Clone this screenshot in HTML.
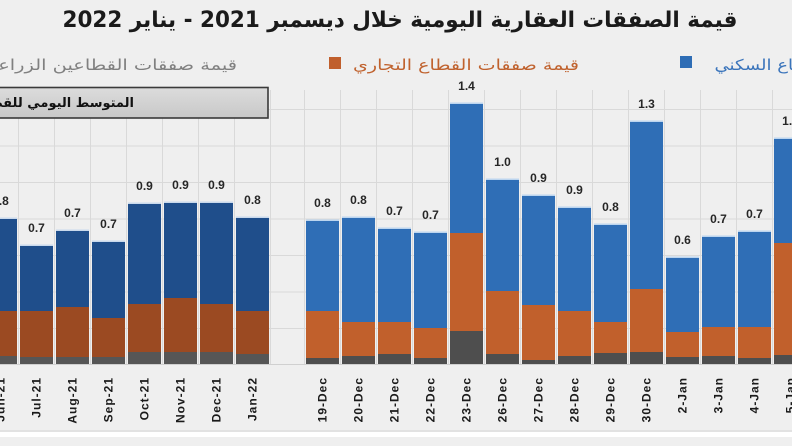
<!DOCTYPE html>
<html><head><meta charset="utf-8"><style>
html,body{margin:0;padding:0;background:#efefef;}
svg{display:block;}
</style></head><body>
<svg width="792" height="446" viewBox="0 0 792 446" xmlns="http://www.w3.org/2000/svg">
<rect x="0" y="0" width="792" height="446" fill="#efefef"/>
<!-- horizontal gridlines -->
<g stroke="#d9d9d9" stroke-width="1">
<line x1="0" y1="109.5" x2="792" y2="109.5"/>
<line x1="0" y1="146" x2="792" y2="146"/>
<line x1="0" y1="182.5" x2="792" y2="182.5"/>
<line x1="0" y1="219" x2="792" y2="219"/>
<line x1="0" y1="255.5" x2="792" y2="255.5"/>
<line x1="0" y1="292" x2="792" y2="292"/>
<line x1="0" y1="328.5" x2="792" y2="328.5"/>
</g>
<!-- vertical gridlines -->
<g stroke="#d9d9d9" stroke-width="1">
<line x1="18.5" y1="90" x2="18.5" y2="365"/>
<line x1="54.5" y1="90" x2="54.5" y2="365"/>
<line x1="90.5" y1="90" x2="90.5" y2="365"/>
<line x1="126.5" y1="90" x2="126.5" y2="365"/>
<line x1="162.5" y1="90" x2="162.5" y2="365"/>
<line x1="198.5" y1="90" x2="198.5" y2="365"/>
<line x1="234.5" y1="90" x2="234.5" y2="365"/>
<line x1="270.5" y1="90" x2="270.5" y2="365"/>
<line x1="304.5" y1="90" x2="304.5" y2="365"/>
<line x1="340.5" y1="90" x2="340.5" y2="365"/>
<line x1="376.5" y1="90" x2="376.5" y2="365"/>
<line x1="412.5" y1="90" x2="412.5" y2="365"/>
<line x1="448.5" y1="90" x2="448.5" y2="365"/>
<line x1="484.5" y1="90" x2="484.5" y2="365"/>
<line x1="520.5" y1="90" x2="520.5" y2="365"/>
<line x1="556.5" y1="90" x2="556.5" y2="365"/>
<line x1="592.5" y1="90" x2="592.5" y2="365"/>
<line x1="628.5" y1="90" x2="628.5" y2="365"/>
<line x1="664.5" y1="90" x2="664.5" y2="365"/>
<line x1="700.5" y1="90" x2="700.5" y2="365"/>
<line x1="736.5" y1="90" x2="736.5" y2="365"/>
<line x1="772.5" y1="90" x2="772.5" y2="365"/>
</g>

<!-- LEFT BARS -->
<g>
<rect x="-16" y="217.5" width="33" height="1.5" fill="#c9d9ec"/>
<rect x="-16" y="219" width="33" height="92" fill="#1f4e8b"/>
<rect x="-16" y="311" width="33" height="45" fill="#9b4a22"/>
<rect x="-16" y="356" width="33" height="8" fill="#565656"/>

<rect x="20" y="244.5" width="33" height="1.5" fill="#c9d9ec"/>
<rect x="20" y="246" width="33" height="65" fill="#1f4e8b"/>
<rect x="20" y="311" width="33" height="46" fill="#9b4a22"/>
<rect x="20" y="357" width="33" height="7" fill="#565656"/>

<rect x="56" y="229.5" width="33" height="1.5" fill="#c9d9ec"/>
<rect x="56" y="231" width="33" height="76" fill="#1f4e8b"/>
<rect x="56" y="307" width="33" height="50" fill="#9b4a22"/>
<rect x="56" y="357" width="33" height="7" fill="#565656"/>

<rect x="92" y="240.5" width="33" height="1.5" fill="#c9d9ec"/>
<rect x="92" y="242" width="33" height="76" fill="#1f4e8b"/>
<rect x="92" y="318" width="33" height="39" fill="#9b4a22"/>
<rect x="92" y="357" width="33" height="7" fill="#565656"/>

<rect x="128" y="202.5" width="33" height="1.5" fill="#c9d9ec"/>
<rect x="128" y="204" width="33" height="100" fill="#1f4e8b"/>
<rect x="128" y="304" width="33" height="48" fill="#9b4a22"/>
<rect x="128" y="352" width="33" height="12" fill="#565656"/>

<rect x="164" y="201.5" width="33" height="1.5" fill="#c9d9ec"/>
<rect x="164" y="203" width="33" height="95" fill="#1f4e8b"/>
<rect x="164" y="298" width="33" height="54" fill="#9b4a22"/>
<rect x="164" y="352" width="33" height="12" fill="#565656"/>

<rect x="200" y="201.5" width="33" height="1.5" fill="#c9d9ec"/>
<rect x="200" y="203" width="33" height="101" fill="#1f4e8b"/>
<rect x="200" y="304" width="33" height="48" fill="#9b4a22"/>
<rect x="200" y="352" width="33" height="12" fill="#565656"/>

<rect x="236" y="216.5" width="33" height="1.5" fill="#c9d9ec"/>
<rect x="236" y="218" width="33" height="93" fill="#1f4e8b"/>
<rect x="236" y="311" width="33" height="43" fill="#9b4a22"/>
<rect x="236" y="354" width="33" height="10" fill="#565656"/>
</g>

<!-- RIGHT BARS -->
<g>
<rect x="306" y="219.5" width="33" height="1.5" fill="#bcd5ef"/>
<rect x="306" y="221" width="33" height="90" fill="#2f6eb6"/>
<rect x="306" y="311" width="33" height="47" fill="#c1602c"/>
<rect x="306" y="358" width="33" height="6" fill="#4e4e4e"/>

<rect x="342" y="216.5" width="33" height="1.5" fill="#bcd5ef"/>
<rect x="342" y="218" width="33" height="104" fill="#2f6eb6"/>
<rect x="342" y="322" width="33" height="34" fill="#c1602c"/>
<rect x="342" y="356" width="33" height="8" fill="#4e4e4e"/>

<rect x="378" y="227.5" width="33" height="1.5" fill="#bcd5ef"/>
<rect x="378" y="229" width="33" height="93" fill="#2f6eb6"/>
<rect x="378" y="322" width="33" height="32" fill="#c1602c"/>
<rect x="378" y="354" width="33" height="10" fill="#4e4e4e"/>

<rect x="414" y="231.5" width="33" height="1.5" fill="#bcd5ef"/>
<rect x="414" y="233" width="33" height="95" fill="#2f6eb6"/>
<rect x="414" y="328" width="33" height="30" fill="#c1602c"/>
<rect x="414" y="358" width="33" height="6" fill="#4e4e4e"/>

<rect x="450" y="102.5" width="33" height="1.5" fill="#bcd5ef"/>
<rect x="450" y="104" width="33" height="129" fill="#2f6eb6"/>
<rect x="450" y="233" width="33" height="98" fill="#c1602c"/>
<rect x="450" y="331" width="33" height="33" fill="#4e4e4e"/>

<rect x="486" y="178.5" width="33" height="1.5" fill="#bcd5ef"/>
<rect x="486" y="180" width="33" height="111" fill="#2f6eb6"/>
<rect x="486" y="291" width="33" height="63" fill="#c1602c"/>
<rect x="486" y="354" width="33" height="10" fill="#4e4e4e"/>

<rect x="522" y="194.5" width="33" height="1.5" fill="#bcd5ef"/>
<rect x="522" y="196" width="33" height="109" fill="#2f6eb6"/>
<rect x="522" y="305" width="33" height="55" fill="#c1602c"/>
<rect x="522" y="360" width="33" height="4" fill="#4e4e4e"/>

<rect x="558" y="206.5" width="33" height="1.5" fill="#bcd5ef"/>
<rect x="558" y="208" width="33" height="103" fill="#2f6eb6"/>
<rect x="558" y="311" width="33" height="45" fill="#c1602c"/>
<rect x="558" y="356" width="33" height="8" fill="#4e4e4e"/>

<rect x="594" y="223.5" width="33" height="1.5" fill="#bcd5ef"/>
<rect x="594" y="225" width="33" height="97" fill="#2f6eb6"/>
<rect x="594" y="322" width="33" height="31" fill="#c1602c"/>
<rect x="594" y="353" width="33" height="11" fill="#4e4e4e"/>

<rect x="630" y="120.5" width="33" height="1.5" fill="#bcd5ef"/>
<rect x="630" y="122" width="33" height="167" fill="#2f6eb6"/>
<rect x="630" y="289" width="33" height="63" fill="#c1602c"/>
<rect x="630" y="352" width="33" height="12" fill="#4e4e4e"/>

<rect x="666" y="256.5" width="33" height="1.5" fill="#bcd5ef"/>
<rect x="666" y="258" width="33" height="74" fill="#2f6eb6"/>
<rect x="666" y="332" width="33" height="25" fill="#c1602c"/>
<rect x="666" y="357" width="33" height="7" fill="#4e4e4e"/>

<rect x="702" y="235.5" width="33" height="1.5" fill="#bcd5ef"/>
<rect x="702" y="237" width="33" height="90" fill="#2f6eb6"/>
<rect x="702" y="327" width="33" height="29" fill="#c1602c"/>
<rect x="702" y="356" width="33" height="8" fill="#4e4e4e"/>

<rect x="738" y="230.5" width="33" height="1.5" fill="#bcd5ef"/>
<rect x="738" y="232" width="33" height="95" fill="#2f6eb6"/>
<rect x="738" y="327" width="33" height="31" fill="#c1602c"/>
<rect x="738" y="358" width="33" height="6" fill="#4e4e4e"/>

<rect x="774" y="137.5" width="33" height="1.5" fill="#bcd5ef"/>
<rect x="774" y="139" width="33" height="104" fill="#2f6eb6"/>
<rect x="774" y="243" width="33" height="112" fill="#c1602c"/>
<rect x="774" y="355" width="33" height="9" fill="#4e4e4e"/>
</g>

<line x1="0" y1="364.5" x2="792" y2="364.5" stroke="#d0d0d0" stroke-width="1"/>

<!-- value labels -->
<g font-family="Liberation Sans, sans-serif" font-weight="bold" font-size="12" fill="#262626" text-anchor="middle">
<text x="0.5" y="205">0.8</text>
<text x="36.5" y="232">0.7</text>
<text x="72.5" y="217">0.7</text>
<text x="108.5" y="228">0.7</text>
<text x="144.5" y="190">0.9</text>
<text x="180.5" y="189">0.9</text>
<text x="216.5" y="189">0.9</text>
<text x="252.5" y="204">0.8</text>

<text x="322.5" y="207">0.8</text>
<text x="358.5" y="204">0.8</text>
<text x="394.5" y="215">0.7</text>
<text x="430.5" y="219">0.7</text>
<text x="466.5" y="90">1.4</text>
<text x="502.5" y="166">1.0</text>
<text x="538.5" y="182">0.9</text>
<text x="574.5" y="194">0.9</text>
<text x="610.5" y="211">0.8</text>
<text x="646.5" y="108">1.3</text>
<text x="682.5" y="244">0.6</text>
<text x="718.5" y="223">0.7</text>
<text x="754.5" y="218">0.7</text>
<text x="790.5" y="125">1.2</text>
</g>

<!-- x labels -->
<g font-family="Liberation Sans, sans-serif" font-weight="bold" font-size="12" fill="#1a1a1a" letter-spacing="1" text-anchor="end" dominant-baseline="central">
<text transform="translate(0.5,377) rotate(-90)">Jun-21</text>
<text transform="translate(36.5,377) rotate(-90)">Jul-21</text>
<text transform="translate(72.5,377) rotate(-90)">Aug-21</text>
<text transform="translate(108.5,377) rotate(-90)">Sep-21</text>
<text transform="translate(144.5,377) rotate(-90)">Oct-21</text>
<text transform="translate(180.5,377) rotate(-90)">Nov-21</text>
<text transform="translate(216.5,377) rotate(-90)">Dec-21</text>
<text transform="translate(252.5,377) rotate(-90)">Jan-22</text>

<text transform="translate(322.5,377) rotate(-90)">19-Dec</text>
<text transform="translate(358.5,377) rotate(-90)">20-Dec</text>
<text transform="translate(394.5,377) rotate(-90)">21-Dec</text>
<text transform="translate(430.5,377) rotate(-90)">22-Dec</text>
<text transform="translate(466.5,377) rotate(-90)">23-Dec</text>
<text transform="translate(502.5,377) rotate(-90)">26-Dec</text>
<text transform="translate(538.5,377) rotate(-90)">27-Dec</text>
<text transform="translate(574.5,377) rotate(-90)">28-Dec</text>
<text transform="translate(610.5,377) rotate(-90)">29-Dec</text>
<text transform="translate(646.5,377) rotate(-90)">30-Dec</text>
<text transform="translate(682.5,377) rotate(-90)">2-Jan</text>
<text transform="translate(718.5,377) rotate(-90)">3-Jan</text>
<text transform="translate(754.5,377) rotate(-90)">4-Jan</text>
<text transform="translate(790.5,377) rotate(-90)">5-Jan</text>
</g>

<!-- bottom stripe -->
<line x1="0" y1="431" x2="792" y2="431" stroke="#d6d6d6" stroke-width="1"/>
<rect x="0" y="432" width="792" height="5" fill="#ffffff"/>

<!-- gray box -->
<defs><linearGradient id="bg" x1="0" y1="0" x2="0" y2="1"><stop offset="0" stop-color="#dcdcdc"/><stop offset="1" stop-color="#c8c8c8"/></linearGradient></defs>
<rect x="-5" y="87.5" width="273" height="30.5" fill="url(#bg)" stroke="#3a3a3a" stroke-width="1.6"/>
<text x="134" y="107" direction="rtl" text-anchor="start" font-family="DejaVu Sans, sans-serif" font-weight="bold" font-size="13" fill="#111">المتوسط اليومي للقطاعات</text>

<!-- title -->
<text x="400" y="27" direction="rtl" text-anchor="middle" font-family="DejaVu Sans, sans-serif" font-weight="bold" font-size="22" fill="#1a1a1a" textLength="675" lengthAdjust="spacingAndGlyphs">قيمة الصفقات العقارية اليومية خلال ديسمبر 2021 - يناير 2022</text>

<!-- legend -->
<text x="68" y="70" direction="rtl" text-anchor="middle" font-family="DejaVu Sans, sans-serif" font-size="15" fill="#808080" textLength="338" lengthAdjust="spacingAndGlyphs">قيمة صفقات القطاعين الزراعي والصناعي</text>
<rect x="329" y="57" width="12" height="12" fill="#c05f2c"/>
<text x="466" y="70" direction="rtl" text-anchor="middle" font-family="DejaVu Sans, sans-serif" font-size="15" fill="#c0622e" textLength="226" lengthAdjust="spacingAndGlyphs">قيمة صفقات القطاع التجاري</text>
<rect x="680" y="56" width="12" height="12" fill="#2e6db5"/>
<text x="822" y="70" direction="rtl" text-anchor="middle" font-family="DejaVu Sans, sans-serif" font-size="15" fill="#3a74bb" textLength="215" lengthAdjust="spacingAndGlyphs">قيمة صفقات القطاع السكني</text>
</svg>
</body></html>
